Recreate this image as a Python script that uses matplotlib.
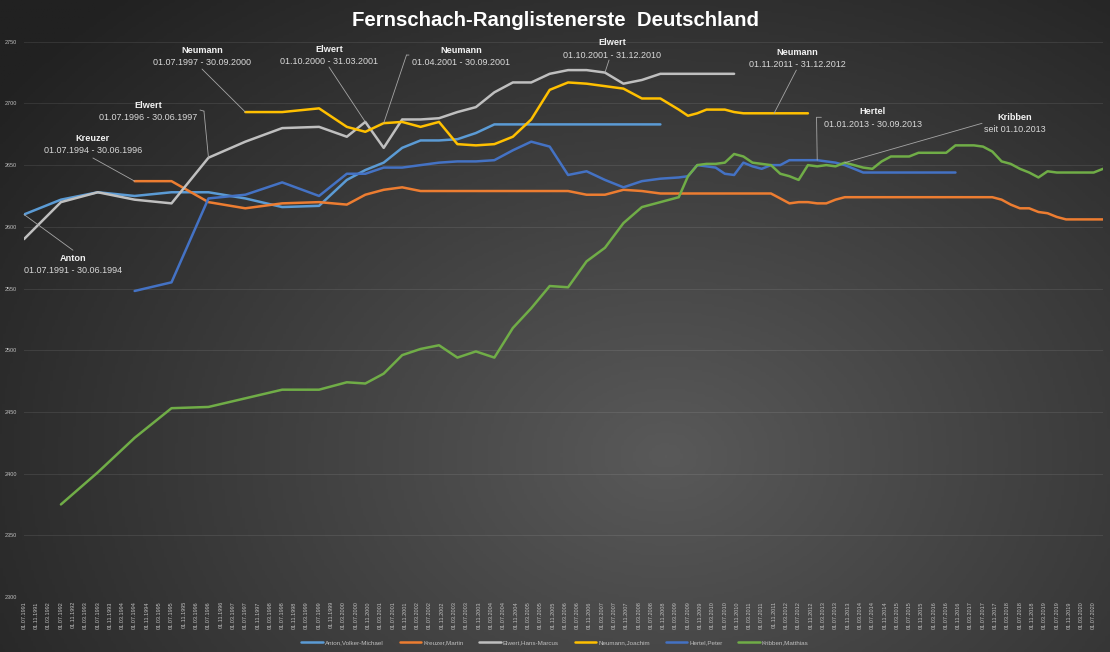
import numpy as np
import pandas as pd
import matplotlib
matplotlib.use('Agg')
import matplotlib.pyplot as plt
from matplotlib.colors import LinearSegmentedColormap

plt.rcParams['font.family'] = ['Liberation Sans', 'DejaVu Sans']

# rating list dates: yearly until 1999, half-yearly until 04.2009, then quarterly
dates = (list(pd.date_range('1991-07-01', '1999-07-01', freq='12MS'))
         + list(pd.date_range('2000-04-01', '2009-04-01', freq='6MS'))
         + list(pd.date_range('2009-07-01', '2020-10-01', freq='3MS')))
tick_dates = pd.date_range('1991-07-01', '2020-07-01', freq='4MS')

N = None
anton = [2610, 2622, 2628, 2625, 2628, 2628, 2623, 2616, 2617,
         2638, 2646, 2652, 2664, 2670, 2670, 2671, 2676, 2683, 2683,
         2683, 2683, 2683, 2683, 2683, 2683, 2683, 2683, N] + [N] * 46
kreuzer = [N, N, N, 2637, 2637, 2620, 2615, 2619, 2620,
           2618, 2626, 2630, 2632, 2629, 2629, 2629, 2629, 2629, 2629,
           2629, 2629, 2629, 2626, 2626, 2630, 2629, 2627, 2627,
           2627, 2627, 2627, 2627, 2627, 2627, 2627, 2627, 2627, 2627,
           2623, 2619, 2620, 2620, 2619, 2619, 2622, 2624, 2624, 2624,
           2624, 2624, 2624, 2624, 2624, 2624, 2624, 2624, 2624, 2624,
           2624, 2624, 2624, 2624, 2622, 2618, 2615, 2615, 2612, 2611,
           2608, 2606, 2606, 2606, 2606, 2606]
elwert = [2590, 2620, 2628, 2622, 2619, 2656, 2669, 2680, 2681,
          2673, 2685, 2664, 2687, 2687, 2688, 2693, 2697, 2709, 2717,
          2717, 2724, 2727, 2727, 2725, 2716, 2719, 2724, 2724,
          2724, 2724, 2724, 2724, 2724, 2724] + [N] * 40
neumann = [N, N, N, N, N, N, 2693, 2693, 2696,
           2681, 2677, 2684, 2685, 2681, 2685, 2667, 2666, 2667, 2673,
           2687, 2711, 2717, 2716, 2714, 2712, 2704, 2704, 2695,
           2690, 2692, 2695, 2695, 2695, 2693, 2692, 2692, 2692, 2692,
           2692, 2692, 2692, 2692] + [N] * 32
hertel = [N, N, N, 2548, 2555, 2623, 2626, 2636, 2625,
          2643, 2643, 2648, 2648, 2650, 2652, 2653, 2653, 2654, 2662,
          2669, 2665, 2642, 2645, 2638, 2632, 2637, 2639, 2640,
          2641, 2650, 2649, 2648, 2643, 2642, 2652, 2649, 2647, 2650,
          2650, 2654, 2654, 2654, 2654, 2653, 2652, 2650, 2647, 2644,
          2644, 2644, 2644, 2644, 2644, 2644, 2644, 2644, 2644, 2644] + [N] * 16
kribben = [N, 2375, 2401, 2429, 2453, 2454, 2461, 2468, 2468,
           2474, 2473, 2481, 2496, 2501, 2504, 2494, 2499, 2494, 2518,
           2534, 2552, 2551, 2572, 2583, 2603, 2616, 2620, 2624,
           2641, 2650, 2651, 2651, 2652, 2659, 2657, 2652, 2651, 2650,
           2643, 2641, 2638, 2650, 2649, 2650, 2649, 2652, 2650, 2648,
           2647, 2653, 2657, 2657, 2657, 2660, 2660, 2660, 2660, 2666,
           2666, 2666, 2665, 2661, 2653, 2651, 2647, 2644, 2640, 2645,
           2644, 2644, 2644, 2644, 2644, 2647]

names = ['Anton,Volker-Michael', 'Kreuzer,Martin', 'Elwert,Hans-Marcus',
         'Neumann,Joachim', 'Hertel,Peter', 'Kribben,Matthias']
colors = ['#5b9bd5', '#ed7d31', '#bfbfbf', '#ffc000', '#4472c4', '#70ad47']
series = [anton, kreuzer, elwert, neumann, hertel, kribben]

fig = plt.figure(figsize=(11.1, 6.52), dpi=100)

# radial dark background
bg = fig.add_axes([0, 0, 1, 1], zorder=-10)
gx, gy = np.meshgrid(np.linspace(0, 1, 400), np.linspace(0, 1, 240))
d = np.sqrt(((gx - 0.6) / 0.75) ** 2 + ((gy - 0.3) / 0.95) ** 2)
cmap = LinearSegmentedColormap.from_list('bg', ['#595959', '#212121'])
bg.imshow(np.clip(d, 0, 1), cmap=cmap, origin='lower', extent=[0, 1, 0, 1],
          aspect='auto', vmin=0, vmax=1)
bg.axis('off')

ax = fig.add_axes([0.0216, 0.0844, 0.9721, 0.8516])
ax.set_facecolor('none')
dts = np.array(dates)
lines = []
for vals, name, c in zip(series, names, colors):
    y = np.array([np.nan if v is None else v for v in vals], dtype=float)
    m = ~np.isnan(y)
    ln, = ax.plot(dts[m], y[m], color=c, lw=1.8, label=name,
                  solid_joinstyle='round', solid_capstyle='round', zorder=3)
    lines.append(ln)

ax.set_xlim(pd.Timestamp('1991-07-01'), pd.Timestamp('2020-10-01'))
ax.set_ylim(2300, 2750)
ax.set_yticks(range(2300, 2751, 50))
ax.set_xticks(tick_dates)
ax.set_xticklabels([t.strftime('%d.%m.%Y') for t in tick_dates], rotation=90)
ax.tick_params(axis='both', length=0, colors='#bfbfbf', labelsize=4)
ax.tick_params(axis='x', pad=3)
ax.tick_params(axis='y', pad=5)
ax.grid(axis='y', color='white', alpha=0.09, lw=0.7)
for s in ax.spines.values():
    s.set_visible(False)

# annotations: name, period, text position (axes fraction), leader start, optional elbow, target
notes = [
    ('Anton', '01.07.1991 - 30.06.1994', (0.0454, 0.610, 0.5876), (0.0454, 0.6245), None, ('1991-07-01', 2610)),
    ('Kreuzer', '01.07.1994 - 30.06.1996', (0.0639, 0.826, 0.8037), (0.0639, 0.7906), None, ('1994-07-01', 2637)),
    ('Elwert', '01.07.1996 - 30.06.1997', (0.1149, 0.886, 0.8644), (0.1631, 0.877), (0.1668, 0.875), ('1996-07-01', 2656)),
    ('Neumann', '01.07.1997 - 30.09.2000', (0.165, 0.9838, 0.9617), (0.165, 0.9508), None, ('1997-07-01', 2693)),
    ('Elwert', '01.10.2000 - 31.03.2001', (0.2827, 0.9863, 0.9635), (0.2827, 0.9545), None, ('2000-10-01', 2685)),
    ('Neumann', '01.04.2001 - 30.09.2001', (0.405, 0.985, 0.963), (0.3568, 0.976), (0.3545, 0.976), ('2001-04-01', 2684)),
    ('Elwert', '01.10.2001 - 31.12.2010', (0.5454, 0.998, 0.976), (0.5422, 0.967), None, ('2007-04-01', 2725)),
    ('Neumann', '01.11.2011 - 31.12.2012', (0.7164, 0.9809, 0.9586), (0.7158, 0.9489), None, ('2011-11-01', 2692)),
    ('Hertel', '01.01.2013 - 30.09.2013', (0.7864, 0.874, 0.8518), (0.739, 0.8639), (0.7345, 0.8639), ('2013-01-01', 2654)),
    ('Kribben', 'seit 01.10.2013', (0.9184, 0.8639, 0.8411), (0.8879, 0.8531), None, ('2013-10-01', 2652)),
]
lp = dict(arrowstyle='-', color='#a6a6a6', lw=0.6, shrinkA=0, shrinkB=0)
for name, period, (tx, ny, dy), start, elbow, (tdate, tval) in notes:
    ax.text(tx, ny, name, transform=ax.transAxes, ha='center', va='center',
            fontsize=6.6, fontweight='bold', color='#f2f2f2', zorder=5)
    ax.text(tx, dy, period, transform=ax.transAxes, ha='center', va='center',
            fontsize=6.5, color='#d9d9d9', zorder=5)
    if elbow is not None:
        ax.annotate('', xy=elbow, xycoords='axes fraction', xytext=start,
                    textcoords='axes fraction', arrowprops=lp)
        start = elbow
    ax.annotate('', xy=(pd.Timestamp(tdate), tval), xycoords='data', xytext=start,
                textcoords='axes fraction', arrowprops=lp, zorder=4)

fig.text(0.5, 0.969, 'Fernschach-Ranglistenerste  Deutschland', ha='center', va='center',
         fontsize=14.7, fontweight='bold', color='white')

fig.legend(handles=lines, loc='center', bbox_to_anchor=(0.5, 0.015), ncol=6,
           frameon=False, fontsize=4.5, labelcolor='#bfbfbf', handlelength=3.5,
           columnspacing=2.5, handletextpad=0.3)

fig.savefig('out.png', dpi=100)
